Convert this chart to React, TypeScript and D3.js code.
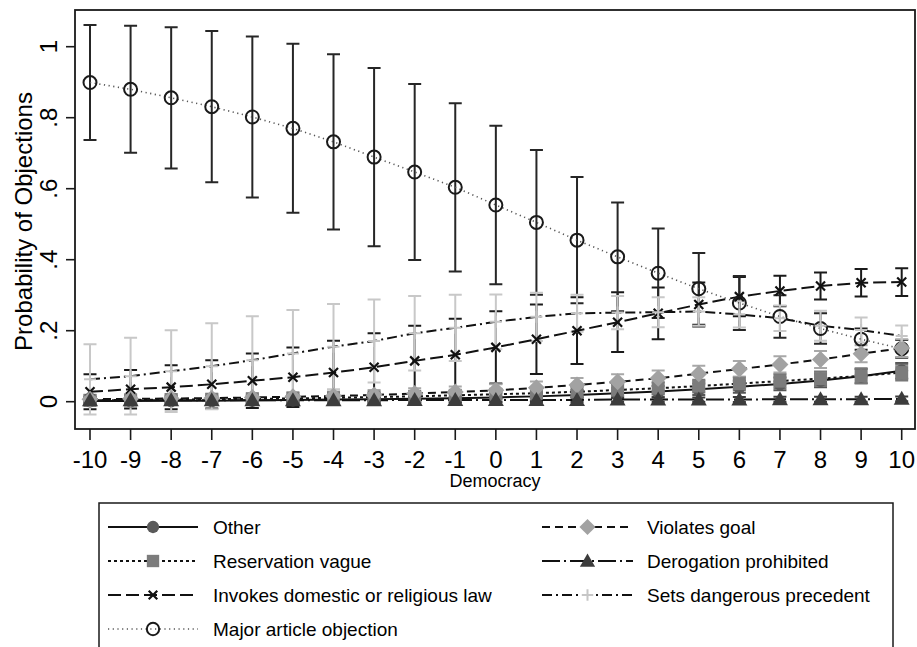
import React, { useRef, useEffect } from "react";
import * as d3 from "d3";

const democracy = [-10, -9, -8, -7, -6, -5, -4, -3, -2, -1, 0, 1, 2, 3, 4, 5, 6, 7, 8, 9, 10];
const yTicks = [0, 0.2, 0.4, 0.6, 0.8, 1];
const yTickLabels = ["0", ".2", ".4", ".6", ".8", "1"];

const otherMean = [0.002, 0.002, 0.003, 0.003, 0.004, 0.005, 0.006, 0.007, 0.008, 0.01, 0.012, 0.015, 0.019, 0.024, 0.029, 0.035, 0.042, 0.05, 0.06, 0.072, 0.087];
const otherHalf = [0.012, 0.012, 0.012, 0.012, 0.012, 0.012, 0.012, 0.012, 0.012, 0.012, 0.013, 0.013, 0.014, 0.014, 0.015, 0.016, 0.017, 0.018, 0.019, 0.02, 0.022];

const vagueMean = [0.004, 0.005, 0.006, 0.007, 0.008, 0.009, 0.011, 0.013, 0.015, 0.018, 0.021, 0.024, 0.028, 0.033, 0.038, 0.044, 0.051, 0.058, 0.065, 0.073, 0.082];
const vagueHalf = [0.01, 0.01, 0.01, 0.01, 0.011, 0.011, 0.012, 0.012, 0.013, 0.013, 0.014, 0.015, 0.015, 0.016, 0.017, 0.018, 0.019, 0.02, 0.02, 0.021, 0.022];

const lawMean = [0.028, 0.035, 0.041, 0.049, 0.059, 0.069, 0.082, 0.097, 0.115, 0.132, 0.153, 0.176, 0.2, 0.224, 0.249, 0.274, 0.296, 0.312, 0.326, 0.335, 0.337];
const lawHalf = [0.049, 0.054, 0.062, 0.068, 0.077, 0.084, 0.09, 0.096, 0.099, 0.102, 0.102, 0.098, 0.094, 0.084, 0.073, 0.062, 0.055, 0.043, 0.038, 0.039, 0.039];

const majorMean = [0.899, 0.88, 0.856, 0.831, 0.802, 0.77, 0.732, 0.689, 0.647, 0.604, 0.554, 0.505, 0.455, 0.408, 0.362, 0.318, 0.278, 0.24, 0.206, 0.176, 0.149];
const majorHalf = [0.162, 0.179, 0.199, 0.213, 0.227, 0.238, 0.247, 0.251, 0.248, 0.237, 0.223, 0.204, 0.178, 0.153, 0.126, 0.101, 0.076, 0.06, 0.043, 0.03, 0.025];

const goalMean = [0.007, 0.008, 0.009, 0.01, 0.012, 0.014, 0.016, 0.019, 0.023, 0.027, 0.032, 0.039, 0.047, 0.056, 0.066, 0.079, 0.092, 0.105, 0.119, 0.135, 0.151];
const goalHalf = [0.012, 0.012, 0.012, 0.012, 0.012, 0.013, 0.013, 0.014, 0.015, 0.016, 0.017, 0.018, 0.02, 0.021, 0.022, 0.022, 0.023, 0.023, 0.024, 0.024, 0.025];

const derogMean = [0.004, 0.004, 0.004, 0.004, 0.004, 0.004, 0.004, 0.004, 0.005, 0.005, 0.005, 0.005, 0.005, 0.006, 0.006, 0.006, 0.006, 0.007, 0.007, 0.007, 0.008];
const derogHalf = [0.006, 0.006, 0.006, 0.006, 0.006, 0.006, 0.006, 0.006, 0.006, 0.006, 0.006, 0.006, 0.006, 0.006, 0.006, 0.006, 0.007, 0.007, 0.007, 0.007, 0.007];

const precMean = [0.063, 0.072, 0.086, 0.1, 0.117, 0.136, 0.155, 0.171, 0.193, 0.208, 0.225, 0.239, 0.249, 0.251, 0.252, 0.254, 0.246, 0.235, 0.214, 0.202, 0.185];
const precHalf = [0.099, 0.108, 0.115, 0.121, 0.124, 0.122, 0.12, 0.117, 0.105, 0.093, 0.077, 0.068, 0.052, 0.047, 0.042, 0.04, 0.037, 0.036, 0.042, 0.035, 0.03];

const series = [
  { name: "Other", mean: otherMean, half: otherHalf, marker: "circle", fill: "#5a5a5a", bar: "#555", dash: null, col: 0, row: 0 },
  { name: "Reservation vague", mean: vagueMean, half: vagueHalf, marker: "square", fill: "#7c7c7c", bar: "#777", dash: "3 3", col: 0, row: 1 },
  { name: "Invokes domestic or religious law", mean: lawMean, half: lawHalf, marker: "x", fill: "#111", bar: "#1a1a1a", dash: "13 5", col: 0, row: 2 },
  { name: "Major article objection", mean: majorMean, half: majorHalf, marker: "hollow", fill: "#1a1a1a", bar: "#262626", dash: "1.2 3.5", col: 0, row: 3 },
  { name: "Violates goal", mean: goalMean, half: goalHalf, marker: "diamond", fill: "#a2a2a2", bar: "#a8a8a8", dash: "8 5", col: 1, row: 0 },
  { name: "Derogation prohibited", mean: derogMean, half: derogHalf, marker: "triangle", fill: "#3c3c3c", bar: "#3a3a3a", dash: "18 4 2 4", col: 1, row: 1 },
  { name: "Sets dangerous precedent", mean: precMean, half: precHalf, marker: "plus", fill: "#c6c6c6", bar: "#c8c8c8", dash: "10 4 2 4", col: 1, row: 2 },
];

const drawMarker = (g, type, cx, cy, fill, k) => {
  if (type === "circle") {
    g.append("circle").attr("cx", cx).attr("cy", cy).attr("r", 6.5 * k).attr("fill", fill);
  } else if (type === "hollow") {
    g.append("circle").attr("cx", cx).attr("cy", cy).attr("r", 6.5 * k).attr("fill", "none").attr("stroke", fill).attr("stroke-width", 2);
  } else if (type === "square") {
    g.append("rect").attr("x", cx - 6.5 * k).attr("y", cy - 6.5 * k).attr("width", 13 * k).attr("height", 13 * k).attr("fill", fill);
  } else if (type === "diamond") {
    const s = 8.5 * k;
    g.append("path").attr("d", `M${cx},${cy - s}L${cx + s},${cy}L${cx},${cy + s}L${cx - s},${cy}Z`).attr("fill", fill);
  } else if (type === "triangle") {
    const s = 8 * k;
    g.append("path").attr("d", `M${cx},${cy - s}L${cx + s},${cy + s * 0.75}L${cx - s},${cy + s * 0.75}Z`).attr("fill", fill);
  } else if (type === "x") {
    const s = 4.5 * k;
    g.append("path").attr("d", `M${cx - s},${cy - s}L${cx + s},${cy + s}M${cx - s},${cy + s}L${cx + s},${cy - s}`).attr("stroke", fill).attr("stroke-width", 2.2);
  } else if (type === "plus") {
    const s = 6 * k;
    g.append("path").attr("d", `M${cx - s},${cy}L${cx + s},${cy}M${cx},${cy - s}L${cx},${cy + s}`).attr("stroke", fill).attr("stroke-width", 2);
  }
};

const Chart = () => {
  const chartRef = useRef(null);

  useEffect(() => {
    const font = "'Liberation Sans', Arial, Helvetica, sans-serif";
    const left = 75, right = 915, top = 10, bottom = 429;

    const x = d3.scaleLinear().domain([-10, 10]).range([90, 901.7]);
    const y = d3.scaleLinear().domain([0, 1]).range([401.7, 46.7]);

    const svg = d3
      .select(chartRef.current)
      .append("svg")
      .attr("width", 917)
      .attr("height", 647)
      .style("display", "block")
      .style("font-family", font);

    svg.append("rect").attr("width", 917).attr("height", 647).attr("fill", "#fff");

    // error bars
    series.forEach((s) => {
      const g = svg.append("g");
      democracy.forEach((d, i) => {
        const lo = y(s.mean[i] - s.half[i]);
        const hi = y(s.mean[i] + s.half[i]);
        const cx = x(d);
        g.append("path")
          .attr("d", `M${cx},${lo}V${hi}M${cx - 6.5},${lo}H${cx + 6.5}M${cx - 6.5},${hi}H${cx + 6.5}`)
          .attr("stroke", s.bar)
          .attr("stroke-width", 2)
          .attr("fill", "none");
      });
    });

    // connecting lines
    const line = d3
      .line()
      .x((d) => x(d[0]))
      .y((d) => y(d[1]));
    series.forEach((s) => {
      svg
        .append("path")
        .datum(democracy.map((d, i) => [d, s.mean[i]]))
        .attr("d", line)
        .attr("fill", "none")
        .attr("stroke", s.marker === "hollow" ? "#555" : "#111")
        .attr("stroke-width", s.marker === "hollow" ? 1.6 : 2)
        .attr("stroke-dasharray", s.dash);
    });

    // markers
    series.forEach((s) => {
      const g = svg.append("g");
      democracy.forEach((d, i) => drawMarker(g, s.marker, x(d), y(s.mean[i]), s.fill, 1));
    });

    // frame
    svg
      .append("rect")
      .attr("x", left)
      .attr("y", top)
      .attr("width", right - left)
      .attr("height", bottom - top)
      .attr("fill", "none")
      .attr("stroke", "#1a1a1a")
      .attr("stroke-width", 1.8);

    // x axis
    const xg = svg.append("g").attr("transform", `translate(0,${bottom})`);
    democracy.forEach((d) => {
      xg.append("line").attr("x1", x(d)).attr("x2", x(d)).attr("y1", 0).attr("y2", 11).attr("stroke", "#1a1a1a").attr("stroke-width", 1.6);
      xg.append("text")
        .attr("x", x(d))
        .attr("y", 39)
        .attr("text-anchor", "middle")
        .style("font-size", "24px")
        .text(String(d));
    });
    svg
      .append("text")
      .attr("x", (left + right) / 2)
      .attr("y", 487)
      .attr("text-anchor", "middle")
      .style("font-size", "18px")
      .text("Democracy");

    // y axis
    yTicks.forEach((t, i) => {
      svg.append("line").attr("x1", 66).attr("x2", left).attr("y1", y(t)).attr("y2", y(t)).attr("stroke", "#1a1a1a").attr("stroke-width", 1.6);
      svg
        .append("text")
        .attr("transform", `translate(57,${y(t)}) rotate(-90)`)
        .attr("text-anchor", "middle")
        .style("font-size", "24px")
        .text(yTickLabels[i]);
    });
    svg
      .append("text")
      .attr("transform", `translate(32,${(top + bottom) / 2 + 2}) rotate(-90)`)
      .attr("text-anchor", "middle")
      .style("font-size", "24px")
      .text("Probability of Objections");

    // legend
    svg
      .append("rect")
      .attr("x", 99)
      .attr("y", 503)
      .attr("width", 893 - 99)
      .attr("height", 160)
      .attr("fill", "#fff")
      .attr("stroke", "#1a1a1a")
      .attr("stroke-width", 1.5);
    const cols = [
      { x0: 108, x1: 198, tx: 213 },
      { x0: 542, x1: 633, tx: 647 },
    ];
    series.forEach((s) => {
      const c = cols[s.col];
      const cy = 527 + s.row * 34;
      const g = svg.append("g");
      g.append("line")
        .attr("x1", c.x0)
        .attr("x2", c.x1)
        .attr("y1", cy)
        .attr("y2", cy)
        .attr("stroke", s.marker === "hollow" ? "#555" : "#111")
        .attr("stroke-width", s.marker === "hollow" ? 1.4 : 2)
        .attr("stroke-dasharray", s.dash);
      drawMarker(g, s.marker, (c.x0 + c.x1) / 2, cy, s.fill, 0.95);
      g.append("text")
        .attr("x", c.tx)
        .attr("y", cy + 7)
        .style("font-size", "19px")
        .text(s.name);
    });

    return () => {
      if (chartRef.current) chartRef.current.innerHTML = "";
    };
  }, []);

  return <div ref={chartRef} style={{ position: "absolute", left: 0, top: 0 }}></div>;
};

export default function App() {
  return <Chart />;
}
